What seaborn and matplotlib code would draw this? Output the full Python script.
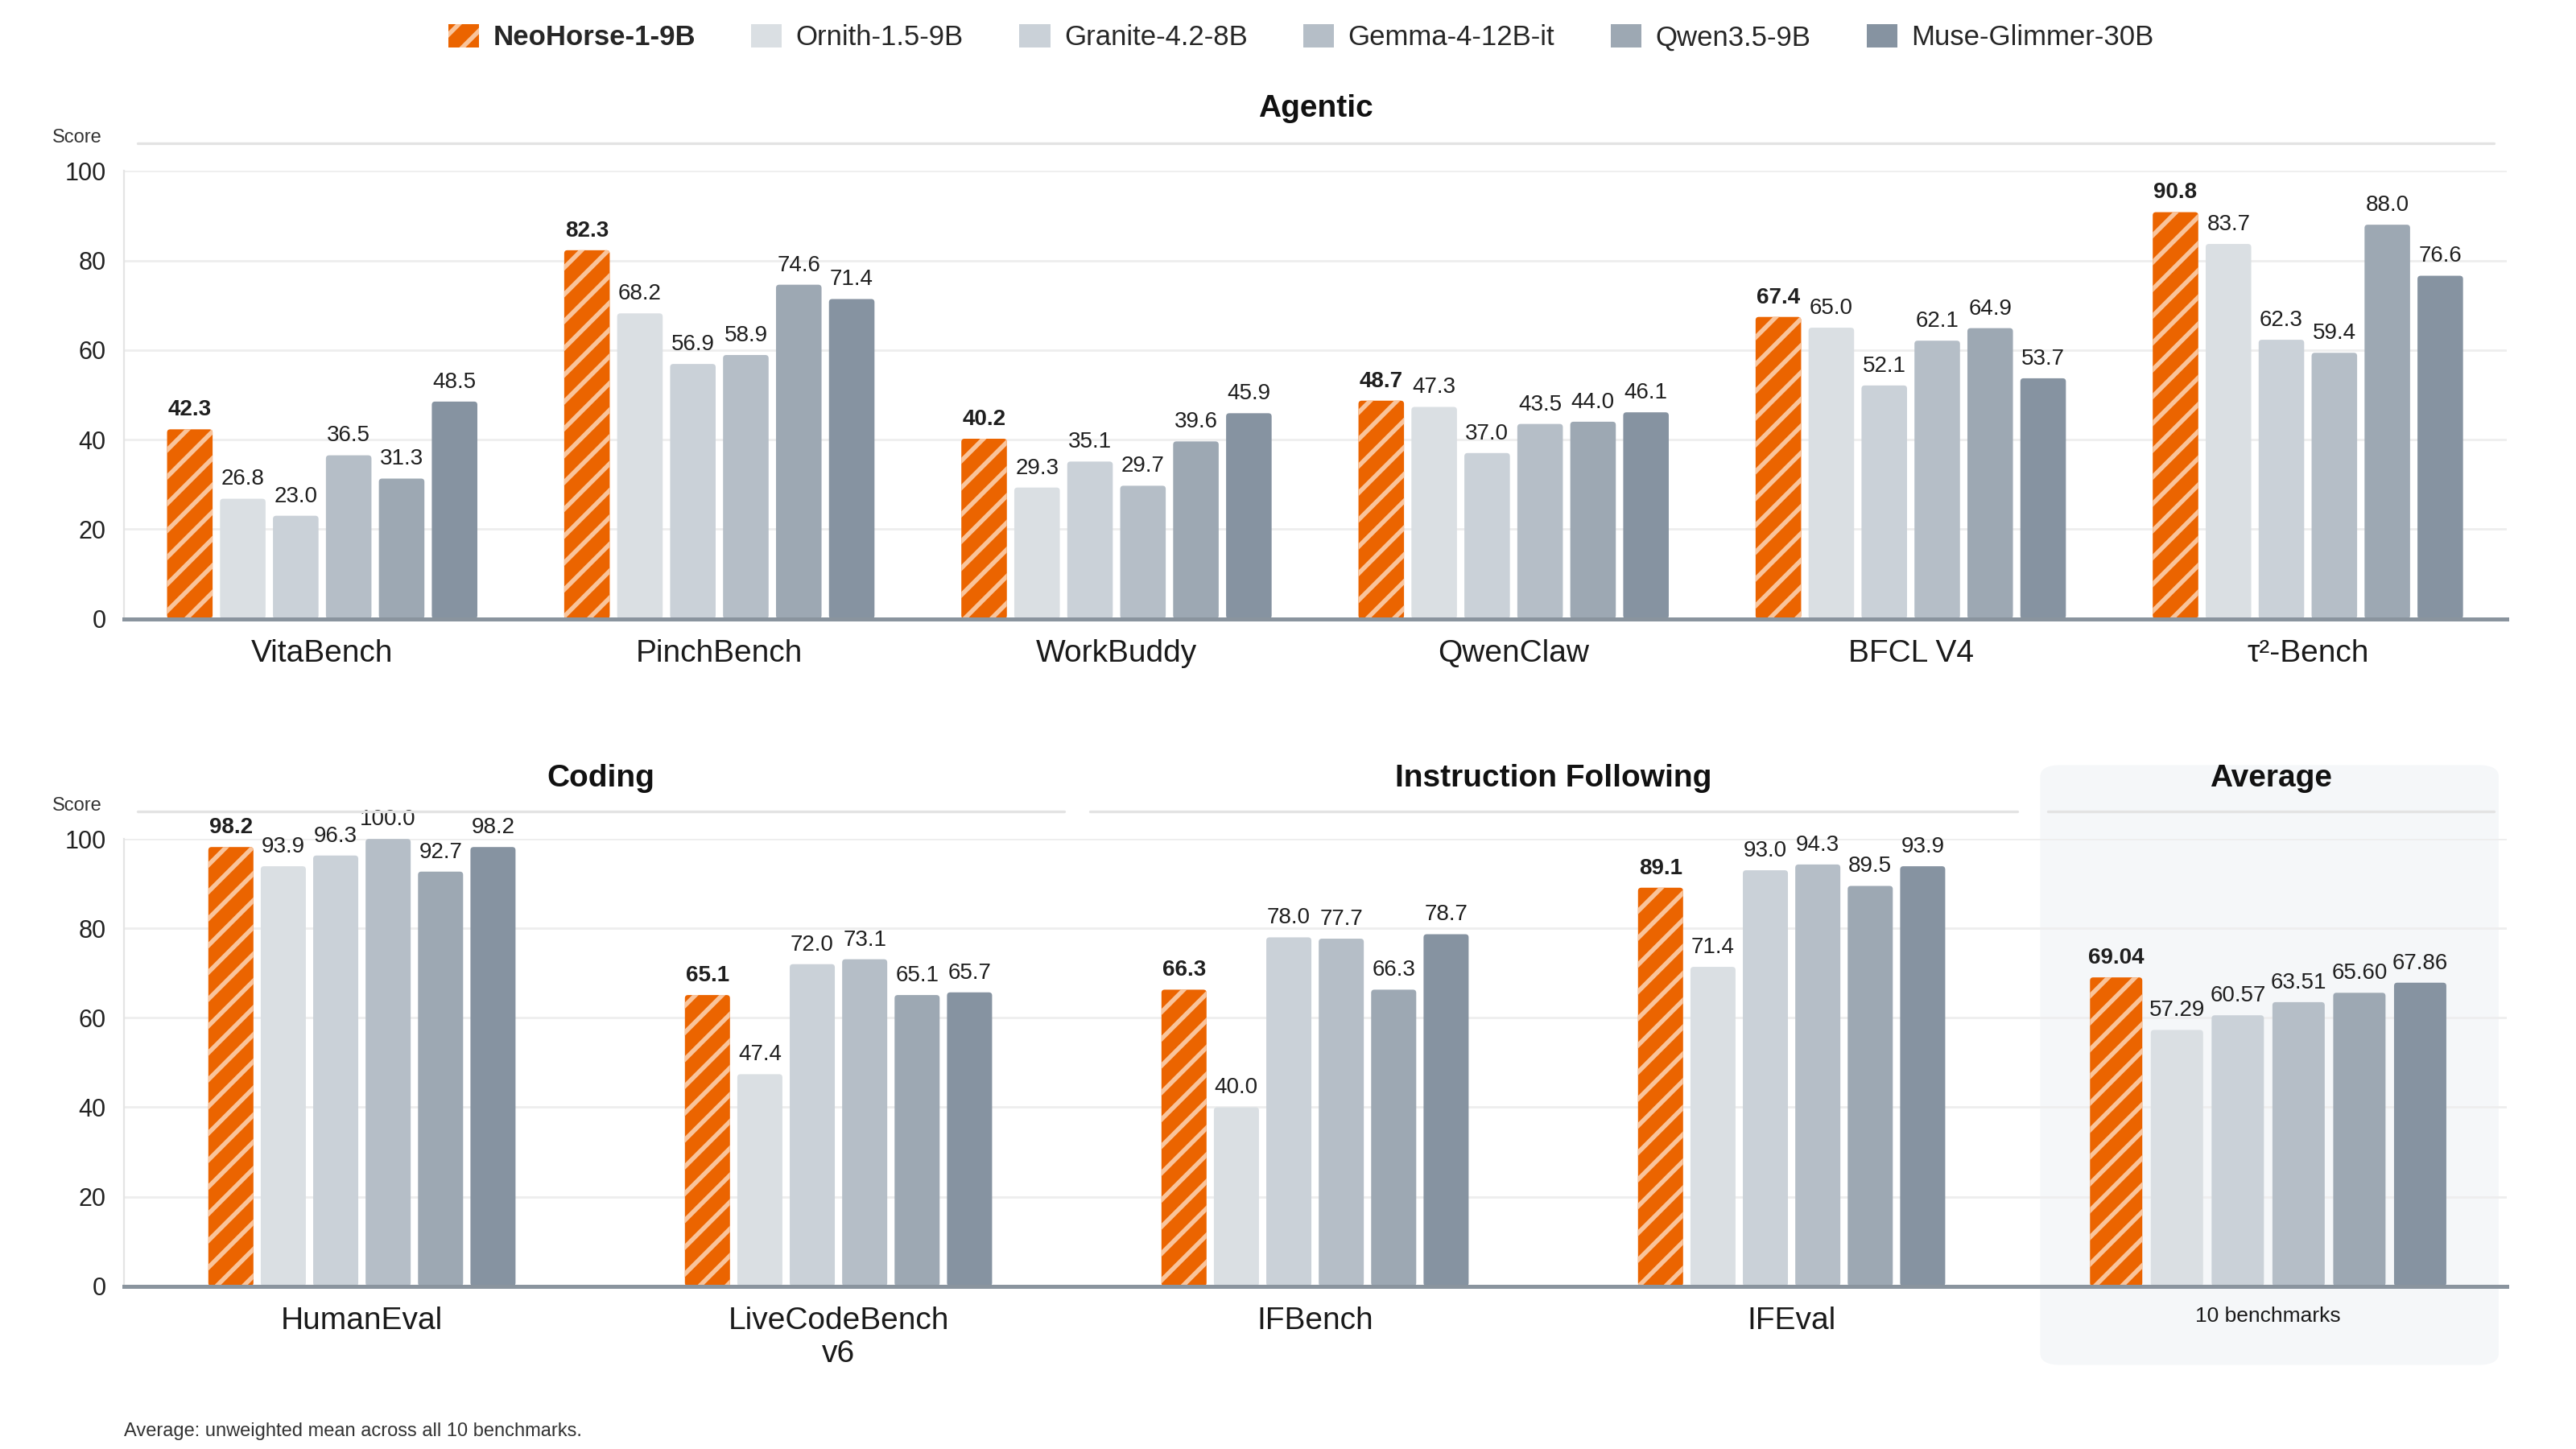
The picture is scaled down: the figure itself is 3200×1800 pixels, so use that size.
import numpy as np
import pandas as pd
import matplotlib
matplotlib.use("Agg")
import matplotlib.pyplot as plt
from matplotlib.patches import Patch, FancyBboxPatch
from matplotlib.lines import Line2D
import seaborn as sns

sns.set_style("white")
plt.rcParams["font.family"] = ["Liberation Sans", "DejaVu Sans"]
plt.rcParams["hatch.linewidth"] = 2.0

# data
models = ["NeoHorse-1-9B", "Ornith-1.5-9B", "Granite-4.2-8B",
          "Gemma-4-12B-it", "Qwen3.5-9B", "Muse-Glimmer-30B"]
colors = ["#EB6400", "#DADFE3", "#CAD1D8", "#B5BEC7", "#9DA8B3", "#8693A1"]

agentic_benches = ["VitaBench", "PinchBench", "WorkBuddy", "QwenClaw", "BFCL V4", "τ²-Bench"]
agentic_scores = {
    "NeoHorse-1-9B":    [42.3, 82.3, 40.2, 48.7, 67.4, 90.8],
    "Ornith-1.5-9B":    [26.8, 68.2, 29.3, 47.3, 65.0, 83.7],
    "Granite-4.2-8B":   [23.0, 56.9, 35.1, 37.0, 52.1, 62.3],
    "Gemma-4-12B-it":   [36.5, 58.9, 29.7, 43.5, 62.1, 59.4],
    "Qwen3.5-9B":       [31.3, 74.6, 39.6, 44.0, 64.9, 88.0],
    "Muse-Glimmer-30B": [48.5, 71.4, 45.9, 46.1, 53.7, 76.6],
}

lower_benches = ["HumanEval", "LiveCodeBench\nv6", "IFBench", "IFEval", "10 benchmarks"]
lower_scores = {
    "NeoHorse-1-9B":    [98.2, 65.1, 66.3, 89.1, 69.04],
    "Ornith-1.5-9B":    [93.9, 47.4, 40.0, 71.4, 57.29],
    "Granite-4.2-8B":   [96.3, 72.0, 78.0, 93.0, 60.57],
    "Gemma-4-12B-it":   [100.0, 73.1, 77.7, 94.3, 63.51],
    "Qwen3.5-9B":       [92.7, 65.1, 66.3, 89.5, 65.60],
    "Muse-Glimmer-30B": [98.2, 65.7, 78.7, 93.9, 67.86],
}


def to_long(benches, scores):
    rows = []
    for m in models:
        for b, v in zip(benches, scores[m]):
            rows.append({"bench": b, "model": m, "score": v})
    return pd.DataFrame(rows)


HATCH_EDGE = "#F9C49B"


def round_bars(ax, radius_px=4):
    # swap the square bars for ones with slightly rounded corners
    x0, y0 = ax.transData.transform((0, 0))
    x1, y1 = ax.transData.transform((1, 1))
    dx_px, dy_px = x1 - x0, y1 - y0
    aspect = dx_px / dy_px
    r = radius_px / dx_px
    for cont in ax.containers:
        for p in cont:
            fb = FancyBboxPatch((p.get_x(), p.get_y()), p.get_width(), p.get_height(),
                                boxstyle=f"round,pad=0,rounding_size={r}",
                                mutation_aspect=aspect,
                                facecolor=p.get_facecolor(), edgecolor=p.get_edgecolor(),
                                linewidth=0, hatch=p.get_hatch(), zorder=3)
            ax.add_patch(fb)
            p.set_visible(False)


def draw_panel(ax, df, benches, width, avg_idx=None, avg_scale=1.0):
    sns.barplot(data=df, x="bench", y="score", hue="model", order=benches,
                hue_order=models, palette=colors, width=width, gap=0.14,
                saturation=1, legend=False, ax=ax, errorbar=None, zorder=3)
    # the average group is drawn a little wider than the others
    if avg_idx is not None:
        for cont in ax.containers:
            p = cont[avg_idx]
            cx = p.get_x() + p.get_width() / 2
            nx = avg_idx + (cx - avg_idx) * avg_scale
            nw = p.get_width() * avg_scale
            p.set_x(nx - nw / 2)
            p.set_width(nw)
    for ci, cont in enumerate(ax.containers):
        vals = [p.get_height() for p in cont]
        labels = []
        for bi, v in enumerate(vals):
            if avg_idx is not None and bi == avg_idx:
                labels.append(f"{v:.2f}")
            else:
                labels.append(f"{v:.1f}")
        texts = ax.bar_label(cont, labels=labels, padding=4, fontsize=10,
                             color="#1f1f1f", clip_on=False)
        if ci == 0:
            for p in cont:
                p.set_hatch("//")
                p.set_edgecolor(HATCH_EDGE)
                p.set_linewidth(0)
            for t in texts:
                t.set_fontweight("bold")
    ax.set_ylim(0, 100)
    ax.set_yticks([0, 20, 40, 60, 80, 100])
    ax.yaxis.grid(True, color="#EEEEEE", lw=1.0, zorder=0)
    ax.set_axisbelow(True)
    ax.set_xlabel("")
    ax.set_ylabel("")
    for s in ["top", "right"]:
        ax.spines[s].set_visible(False)
    ax.spines["left"].set_color("#E4E4E4")
    ax.spines["bottom"].set_color("#8A949E")
    ax.spines["bottom"].set_linewidth(1.8)
    ax.spines["bottom"].set_zorder(5)
    ax.tick_params(axis="y", length=0, labelsize=11, colors="#222222", pad=8)
    ax.tick_params(axis="x", length=0, labelsize=14, colors="#1a1a1a", pad=9)
    ax.patch.set_alpha(0)
    round_bars(ax)


fig = plt.figure(figsize=(16, 9), dpi=200)

# Average panel background
bg = FancyBboxPatch((0.792, 0.058), 0.178, 0.414,
                    boxstyle="round,pad=0,rounding_size=0.008",
                    transform=fig.transFigure, facecolor="#F5F7F9",
                    edgecolor="none", zorder=-1)
fig.patches.append(bg)

ax1 = fig.add_axes([0.048, 0.573, 0.925, 0.309])
ax2 = fig.add_axes([0.048, 0.1124, 0.925, 0.3086])

draw_panel(ax1, to_long(agentic_benches, agentic_scores), agentic_benches, 0.8)
draw_panel(ax2, to_long(lower_benches, lower_scores), lower_benches, 0.66,
           avg_idx=4, avg_scale=1.16)

for lab in ax2.get_xticklabels():
    if lab.get_text() == "10 benchmarks":
        lab.set_fontsize(9.5)

# section headers
def header(text, x0, x1, y_text, y_line):
    fig.text((x0 + x1) / 2, y_text, text, ha="center", va="center",
             fontsize=14, fontweight="bold", color="#111111")
    fig.add_artist(Line2D([x0, x1], [y_line, y_line], transform=fig.transFigure,
                          color="#E3E3E3", lw=1.2))

header("Agentic", 0.0535, 0.968, 0.925, 0.901)
header("Coding", 0.0535, 0.413, 0.463, 0.440)
header("Instruction Following", 0.423, 0.783, 0.463, 0.440)
header("Average", 0.795, 0.968, 0.463, 0.440)

fig.text(0.030, 0.905, "Score", ha="center", va="center", fontsize=8.5, color="#333333")
fig.text(0.030, 0.444, "Score", ha="center", va="center", fontsize=8.5, color="#333333")

fig.text(0.048, 0.012, "Average: unweighted mean across all 10 benchmarks.",
         ha="left", va="center", fontsize=8.5, color="#333333")

# legend
handles = []
for m, c in zip(models, colors):
    if m == models[0]:
        handles.append(Patch(facecolor=c, edgecolor=HATCH_EDGE, hatch="//", lw=0))
    else:
        handles.append(Patch(facecolor=c, edgecolor="none"))
leg = fig.legend(handles, models, loc="center", bbox_to_anchor=(0.505, 0.974),
                 ncol=6, frameon=False, fontsize=12.5, handlelength=1.1,
                 handleheight=0.9, columnspacing=2.0, handletextpad=0.5)
leg.get_texts()[0].set_fontweight("bold")

fig.savefig("out.png", dpi=200, facecolor="white")
